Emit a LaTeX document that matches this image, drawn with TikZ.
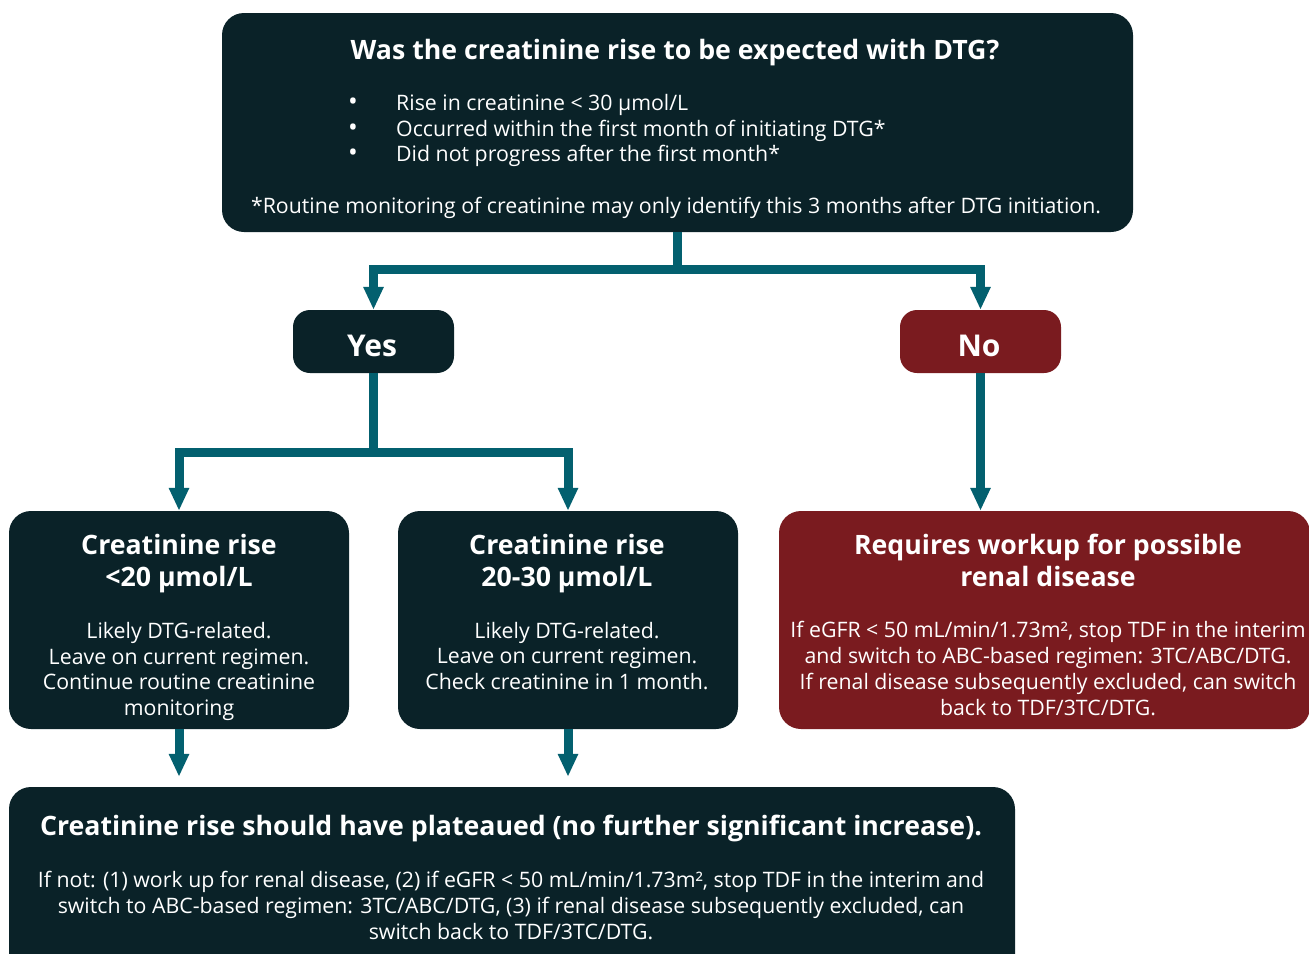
\documentclass[tikz,border=0pt]{standalone}
\usepackage{fontspec}
\setmainfont{Open Sans}
\usetikzlibrary{arrows.meta}
\definecolor{navy}{HTML}{0A2228}
\definecolor{teal}{HTML}{03606F}
\definecolor{wine}{HTML}{7A1B1F}
\begin{document}
\begin{tikzpicture}[x=1pt,y=-1pt,
  box/.style={fill=navy, draw=none, rounded corners=22pt, inner sep=0pt},
  redbox/.style={box, fill=wine},
  pill/.style={box, rounded corners=17pt, minimum width=161pt, minimum height=63pt},
  pilltxt/.style={text=white, inner sep=0pt, font=\fontsize{30}{34}\selectfont\bfseries},
  txt/.style={text=white, inner sep=0pt, align=center, font=\fontsize{21.3}{25.7}\selectfont},
  ttl/.style={text=white, inner sep=0pt, align=center, font=\fontsize{26.7}{32}\selectfont\bfseries},
  conn/.style={draw=teal, line width=9pt},
  arr/.style={conn, -{Triangle[width=19pt,length=23pt]}}
]
\clip (0,0) rectangle (1309,953);
\useasboundingbox (0,0) rectangle (1309,953);

% boxes
\node[box, minimum width=911pt, minimum height=219pt] (top) at (677.5,122.5) {};
\node[pill] (yes) at (373.5,341.5) {};
\node[pill, fill=wine] (no) at (980.5,341.5) {};
\node[box, minimum width=340pt, minimum height=218pt] (left) at (179,620) {};
\node[box, minimum width=340pt, minimum height=218pt] (mid) at (568,620) {};
\node[redbox, minimum width=531pt, minimum height=218pt] (red) at (1044.5,620) {};
\node[box, minimum width=1006pt, minimum height=190pt] (bot) at (512,882) {};

% pill labels
\node[pilltxt] (yestxt) at (372,346) {Yes};
\node[pilltxt] (notxt) at (979,346) {No};

% top text
\node[ttl] (toptitle) at (675,53) {Was the creatinine rise to be expected with DTG?};
\node[txt, anchor=west, align=left] (bullets) at (348,131) {%
  \begin{tabular}{@{}p{48pt}@{}l@{}}
  {\fontsize{26}{25.7}\selectfont •}&Rise in creatinine < 30 μmol/L\\
  {\fontsize{26}{25.7}\selectfont •}&Occurred within the first month of initiating DTG*\\
  {\fontsize{26}{25.7}\selectfont •}&Did not progress after the first month*
  \end{tabular}};
\node[txt] (foot) at (676,208) {*Routine monitoring of creatinine may only identify this 3 months after DTG initiation.};

% left box
\node[ttl] (lt) at (179,564) {Creatinine rise\\<20 μmol/L};
\node[txt] (lb) at (179,671.5) {Likely DTG-related.\\Leave on current regimen.\\Continue routine creatinine\\monitoring};
% middle box
\node[ttl] (mt) at (567,564) {Creatinine rise\\20-30 μmol/L};
\node[txt] (mb) at (567,656) {Likely DTG-related.\\Leave on current regimen.\\Check creatinine in 1 month.};
% red box
\node[ttl] (rt) at (1048,560) {Requires workup for possible\\renal disease};
\node[txt] (rb) at (1048,668.5) {If eGFR < 50 mL/min/1.73m², stop TDF in the interim\\and switch to ABC-based regimen: 3TC/ABC/DTG.\\If renal disease subsequently excluded, can switch\\back to TDF/3TC/DTG.};
% bottom box
\node[ttl] (bt) at (511,828) {Creatinine rise should have plateaued (no further significant increase).};
\node[txt] (bb) at (511,905.5) {If not: (1) work up for renal disease, (2) if eGFR < 50 mL/min/1.73m², stop TDF in the interim and\\switch to ABC-based regimen: 3TC/ABC/DTG, (3) if renal disease subsequently excluded, can\\switch back to TDF/3TC/DTG.};

% connectors
\draw[conn] (top.south) -- ++(0,37) coordinate (split1);
\draw[arr] (split1) -| (yes.north);
\draw[arr] (split1) -| (no.north);
\draw[conn] (yes.south) -- ++(0,79) coordinate (split2);
\draw[arr] (split2) -| (left.north);
\draw[arr] (split2) -| (mid.north);
\draw[arr] (no.south) -- (no.south |- red.north);
\draw[arr, shorten >=10pt] (left.south) -- (left.south |- bot.north);
\draw[arr, shorten >=10pt] (mid.south) -- (mid.south |- bot.north);
\end{tikzpicture}
\end{document}
